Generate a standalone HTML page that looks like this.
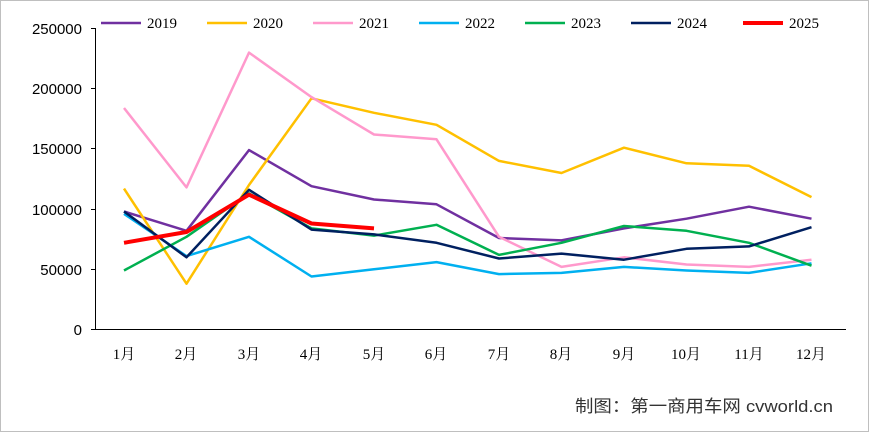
<!DOCTYPE html>
<html><head><meta charset="utf-8"><style>
html,body{margin:0;padding:0;background:#fff;}
svg text{font-family:"Liberation Serif","Noto Serif CJK SC",serif;font-size:15px;fill:#000;}
</style></head><body>
<svg width="869" height="432" xmlns="http://www.w3.org/2000/svg">
<rect x="0.5" y="0.5" width="868" height="431" fill="#fff" stroke="#bfbfbf"/>
<g stroke="#000" stroke-width="1">
<line x1="95.5" y1="28" x2="95.5" y2="329.5"/>
<line x1="95" y1="329.5" x2="846" y2="329.5"/>
<line x1="91" y1="329.5" x2="95" y2="329.5"/><line x1="91" y1="269.5" x2="95" y2="269.5"/>
<line x1="91" y1="209.5" x2="95" y2="209.5"/><line x1="91" y1="148.5" x2="95" y2="148.5"/>
<line x1="91" y1="88.5" x2="95" y2="88.5"/><line x1="91" y1="28.5" x2="95" y2="28.5"/>
</g>
<g text-anchor="end">
<text x="82" y="335" style="font-family:'Liberation Sans',sans-serif">0</text>
<text x="82" y="275" style="font-family:'Liberation Sans',sans-serif">50000</text>
<text x="82" y="215" style="font-family:'Liberation Sans',sans-serif">100000</text>
<text x="82" y="154" style="font-family:'Liberation Sans',sans-serif">150000</text>
<text x="82" y="94" style="font-family:'Liberation Sans',sans-serif">200000</text>
<text x="82" y="34" style="font-family:'Liberation Sans',sans-serif">250000</text>
</g>
<g text-anchor="middle">
<text x="124" y="359">1月</text><text x="186" y="359">2月</text><text x="249" y="359">3月</text>
<text x="311" y="359">4月</text><text x="374" y="359">5月</text><text x="436" y="359">6月</text>
<text x="499" y="359">7月</text><text x="561" y="359">8月</text><text x="624" y="359">9月</text>
<text x="686" y="359">10月</text><text x="749" y="359">11月</text><text x="811" y="359">12月</text>
</g>
<text x="575" y="412" textLength="258" lengthAdjust="spacingAndGlyphs" style="font-family:'Liberation Sans','Noto Sans CJK SC',sans-serif;font-size:17px;fill:#333">制图：第一商用车网 cvworld.cn</text>
<g fill="none" stroke-width="2.5" stroke-linejoin="round">
<polyline id="l2019" stroke="#7030a0" points=""/>
<polyline id="l2020" stroke="#ffc000" points=""/>
<polyline id="l2021" stroke="#ff99cc" points=""/>
<polyline id="l2022" stroke="#00b0f0" points=""/>
<polyline id="l2023" stroke="#00b050" points=""/>
<polyline id="l2024" stroke="#002060" points=""/>
<polyline id="l2025" stroke="#ff0000" stroke-width="4" points=""/>
</g>
<g stroke-width="2.5">
<line x1="101" y1="23" x2="141" y2="23" stroke="#7030a0"/><text x="147" y="28">2019</text>
<line x1="207" y1="23" x2="247" y2="23" stroke="#ffc000"/><text x="253" y="28">2020</text>
<line x1="313" y1="23" x2="353" y2="23" stroke="#ff99cc"/><text x="359" y="28">2021</text>
<line x1="419" y1="23" x2="459" y2="23" stroke="#00b0f0"/><text x="465" y="28">2022</text>
<line x1="525" y1="23" x2="565" y2="23" stroke="#00b050"/><text x="571" y="28">2023</text>
<line x1="631" y1="23" x2="671" y2="23" stroke="#002060"/><text x="677" y="28">2024</text>
<line x1="743" y1="23" x2="783" y2="23" stroke="#ff0000" stroke-width="4"/><text x="789" y="28">2025</text>
</g>
<script>
var d={
"2019":[98000,82000,149000,119000,108000,104000,76000,74000,84000,92000,102000,92000],
"2020":[117000,38000,120000,192000,180000,170000,140000,130000,151000,138000,136000,110000],
"2021":[184000,118000,230000,193000,162000,158000,77000,52000,60000,54000,52000,58000],
"2022":[96000,61000,77000,44000,50000,56000,46000,47000,52000,49000,47000,55000],
"2023":[49000,77000,113000,84000,78000,87000,62000,72000,86000,82000,72000,53000],
"2024":[98000,60000,116000,83000,79000,72000,59000,63000,58000,67000,69000,85000],
"2025":[72000,81000,112000,88000,84000]};
for(var k in d){var p=d[k].map(function(v,i){return (124+i*62.5).toFixed(1)+","+(329.5-v*301/250000).toFixed(1)}).join(" ");
document.getElementById("l"+k).setAttribute("points",p);}
</script>
</svg>
</body></html>
